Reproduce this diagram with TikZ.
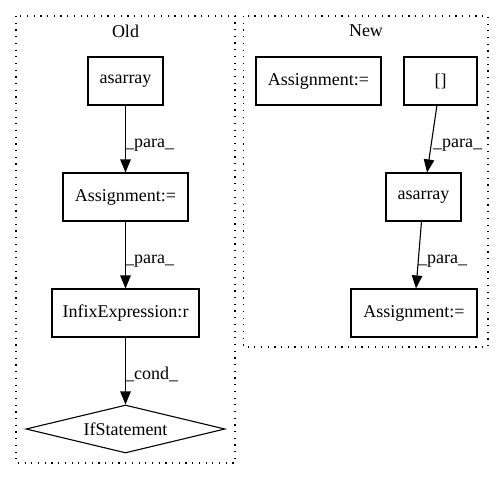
\documentclass[tikz,border=0pt]{standalone}
\usepackage{fontspec}
\setmainfont{Liberation Serif}
\usetikzlibrary{shapes.geometric,arrows.meta}
\begin{document}
\begin{tikzpicture}[x=1pt,y=-1pt,
  lbl/.style={font=\fontsize{18}{20}\selectfont},
  box/.style={draw,line width=1.1pt,minimum height=48pt,inner sep=0pt,lbl},
  cluster/.style={draw,line width=1.2pt,dash pattern=on 1.2pt off 5.5pt},
  edge/.style={draw,line width=1.1pt,-{Triangle[length=13pt,width=10.5pt]}},
  elbl/.style={lbl,anchor=base west,inner sep=0pt}]
\useasboundingbox[fill=white] (0,0) rectangle (504,480);
% clusters
\draw[cluster] (16,16) rectangle (235,463);
\draw[cluster] (243.5,16) rectangle (488,347);
\node[lbl] (oldt) at (125.5,31) {Old};
\node[lbl] (newt) at (366,31) {New};
% Old nodes
\node[box,minimum width=75pt] (oasarray) at (125.5,81) {asarray};
\node[box,minimum width=125pt] (oassign) at (125.5,197) {Assignment:=};
\node[box,minimum width=147pt] (oinfix) at (125.5,313) {InfixExpression:r};
\node[draw,diamond,aspect=4.15,line width=1.1pt,minimum width=199pt,minimum height=48pt,inner sep=0pt,lbl] (oif) at (125.5,429) {IfStatement};
% New nodes
\node[box,minimum width=125pt] (nassign1) at (318.5,81) {Assignment:=};
\node[box,minimum width=73pt] (nbr) at (440.5,81) {[]};
\node[box,minimum width=75pt] (nasarray) at (423.5,197) {asarray};
\node[box,minimum width=126pt] (nassign2) at (414,313) {Assignment:=};
% edges
\draw[edge] (oasarray) -- (oassign);
\draw[edge] (oassign) -- (oinfix);
\draw[edge] (oinfix) -- (oif);
\draw[edge] (nbr) -- (nasarray);
\draw[edge] (nasarray) -- (nassign2);
% edge labels
\node[elbl] (l1) at (125,147) {\_para\_};
\node[elbl] (l2) at (125,263) {\_para\_};
\node[elbl] (l3) at (125,379) {\_cond\_};
\node[elbl] (l4) at (433,147) {\_para\_};
\node[elbl] (l5) at (418,263) {\_para\_};
\end{tikzpicture}
\end{document}
